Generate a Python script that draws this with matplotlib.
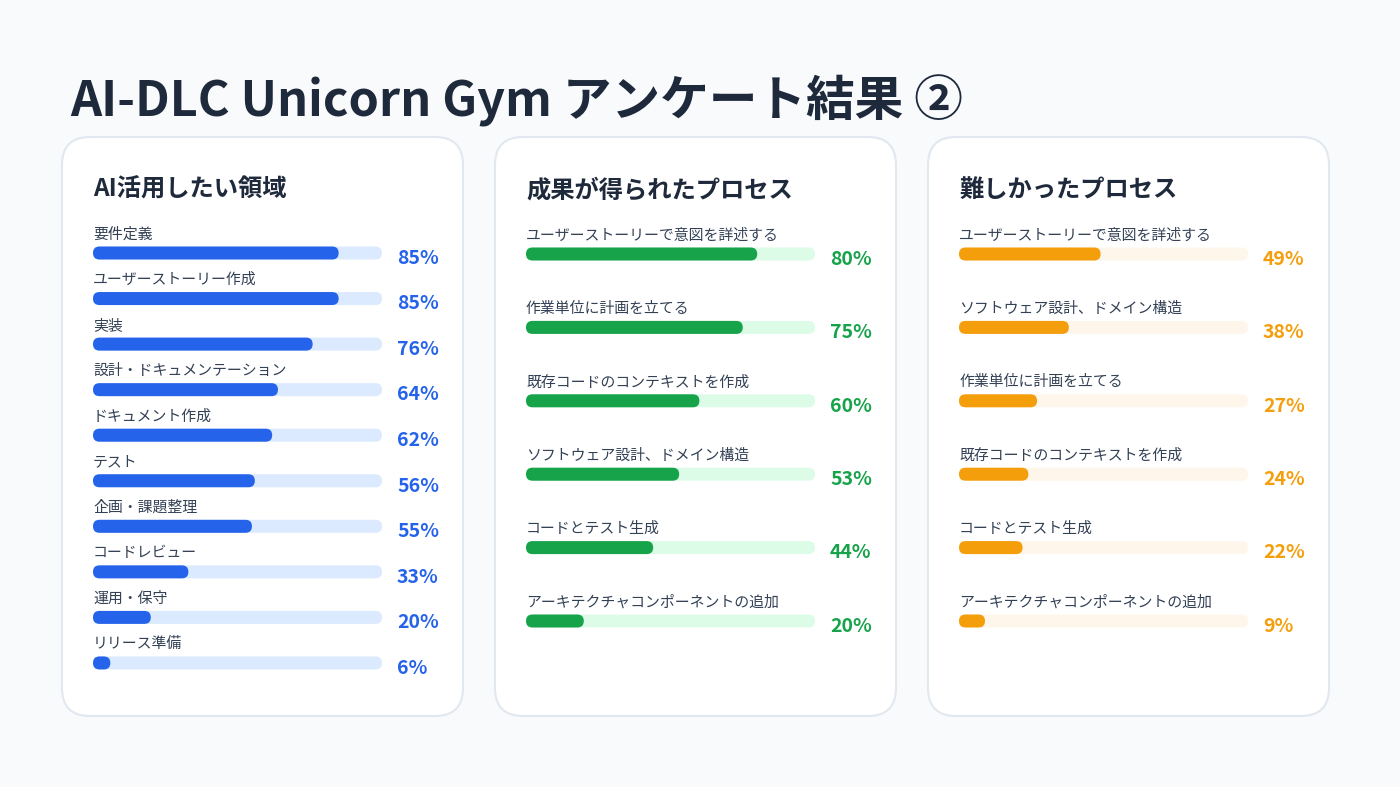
import matplotlib
matplotlib.use("Agg")
import matplotlib.pyplot as plt
from matplotlib.patches import FancyBboxPatch

plt.rcParams["font.family"] = ["Noto Sans CJK JP", "DejaVu Sans"]

TITLE = "AI-DLC Unicorn Gym アンケート結果 ②"

areas_title = "AI活用したい領域"
areas_labels = ["要件定義", "ユーザーストーリー作成", "実装", "設計・ドキュメンテーション",
                "ドキュメント作成", "テスト", "企画・課題整理", "コードレビュー",
                "運用・保守", "リリース準備"]
areas_values = [85, 85, 76, 64, 62, 56, 55, 33, 20, 6]

success_title = "成果が得られたプロセス"
success_labels = ["ユーザーストーリーで意図を詳述する", "作業単位に計画を立てる",
                  "既存コードのコンテキストを作成", "ソフトウェア設計、ドメイン構造",
                  "コードとテスト生成", "アーキテクチャコンポーネントの追加"]
success_values = [80, 75, 60, 53, 44, 20]

hard_title = "難しかったプロセス"
hard_labels = ["ユーザーストーリーで意図を詳述する", "ソフトウェア設計、ドメイン構造",
               "作業単位に計画を立てる", "既存コードのコンテキストを作成",
               "コードとテスト生成", "アーキテクチャコンポーネントの追加"]
hard_values = [49, 38, 27, 24, 22, 9]

W, H = 1400, 787
BG = "#f8fafc"
TEXT_DARK = "#1e293b"
TEXT_LABEL = "#334155"

fig = plt.figure(figsize=(14, 7.87), dpi=100, facecolor=BG)
bg = fig.add_axes([0, 0, 1, 1])
bg.set_xlim(0, W)
bg.set_ylim(H, 0)
bg.axis("off")

bg.text(70, 101, TITLE, fontsize=35, fontweight="bold", color=TEXT_DARK,
        ha="left", va="center")

TRACK_W = 289
BAR_H = 13


def card(x0, title, labels, values, color, track, first_y, spacing):
    # card background
    bg.add_patch(FancyBboxPatch((x0, 137), 401, 579,
                                boxstyle="round,pad=0,rounding_size=28",
                                fc="white", ec="#e2e8f0", lw=1.5))
    bg.text(x0 + 31, 190, title, fontsize=17.5, fontweight="bold",
            color=TEXT_DARK, ha="left", va="center")

    n = len(values)
    tx = x0 + 31
    top = first_y - spacing / 2
    ax = fig.add_axes([tx / W, 1 - (top + n * spacing) / H,
                       TRACK_W / W, n * spacing / H])
    ax.set_xlim(0, 100)
    ax.set_ylim(n - 0.5, -0.5)
    ax.axis("off")

    px_x = TRACK_W / 100.0
    h = BAR_H / spacing
    rx = (BAR_H / 2) / px_x
    aspect = px_x / spacing
    for i, (lab, v) in enumerate(zip(labels, values)):
        ax.add_patch(FancyBboxPatch((0, i - h / 2), 100, h,
                                    boxstyle=f"round,pad=0,rounding_size={rx}",
                                    mutation_aspect=aspect, fc=track, ec="none"))
        ax.add_patch(FancyBboxPatch((0, i - h / 2), v, h,
                                    boxstyle=f"round,pad=0,rounding_size={rx}",
                                    mutation_aspect=aspect, fc=color, ec="none"))
        ax.text(0, i - 18.5 / spacing, lab, fontsize=10.75, color=TEXT_LABEL,
                ha="left", va="center", clip_on=False)
        ax.annotate(f"{v}%", xy=(100, i), xytext=(10.8, -3.8),
                    textcoords="offset points", fontsize=14, fontweight="bold",
                    color=color, ha="left", va="center", annotation_clip=False)


card(62, areas_title, areas_labels, areas_values, "#2563eb", "#dbeafe", 253, 45.55)
card(495, success_title, success_labels, success_values, "#16a34a", "#dcfce7", 254, 73.4)
card(928, hard_title, hard_labels, hard_values, "#f59e0b", "#fef6ea", 254, 73.4)

fig.savefig("out.png", dpi=100, facecolor=BG)
